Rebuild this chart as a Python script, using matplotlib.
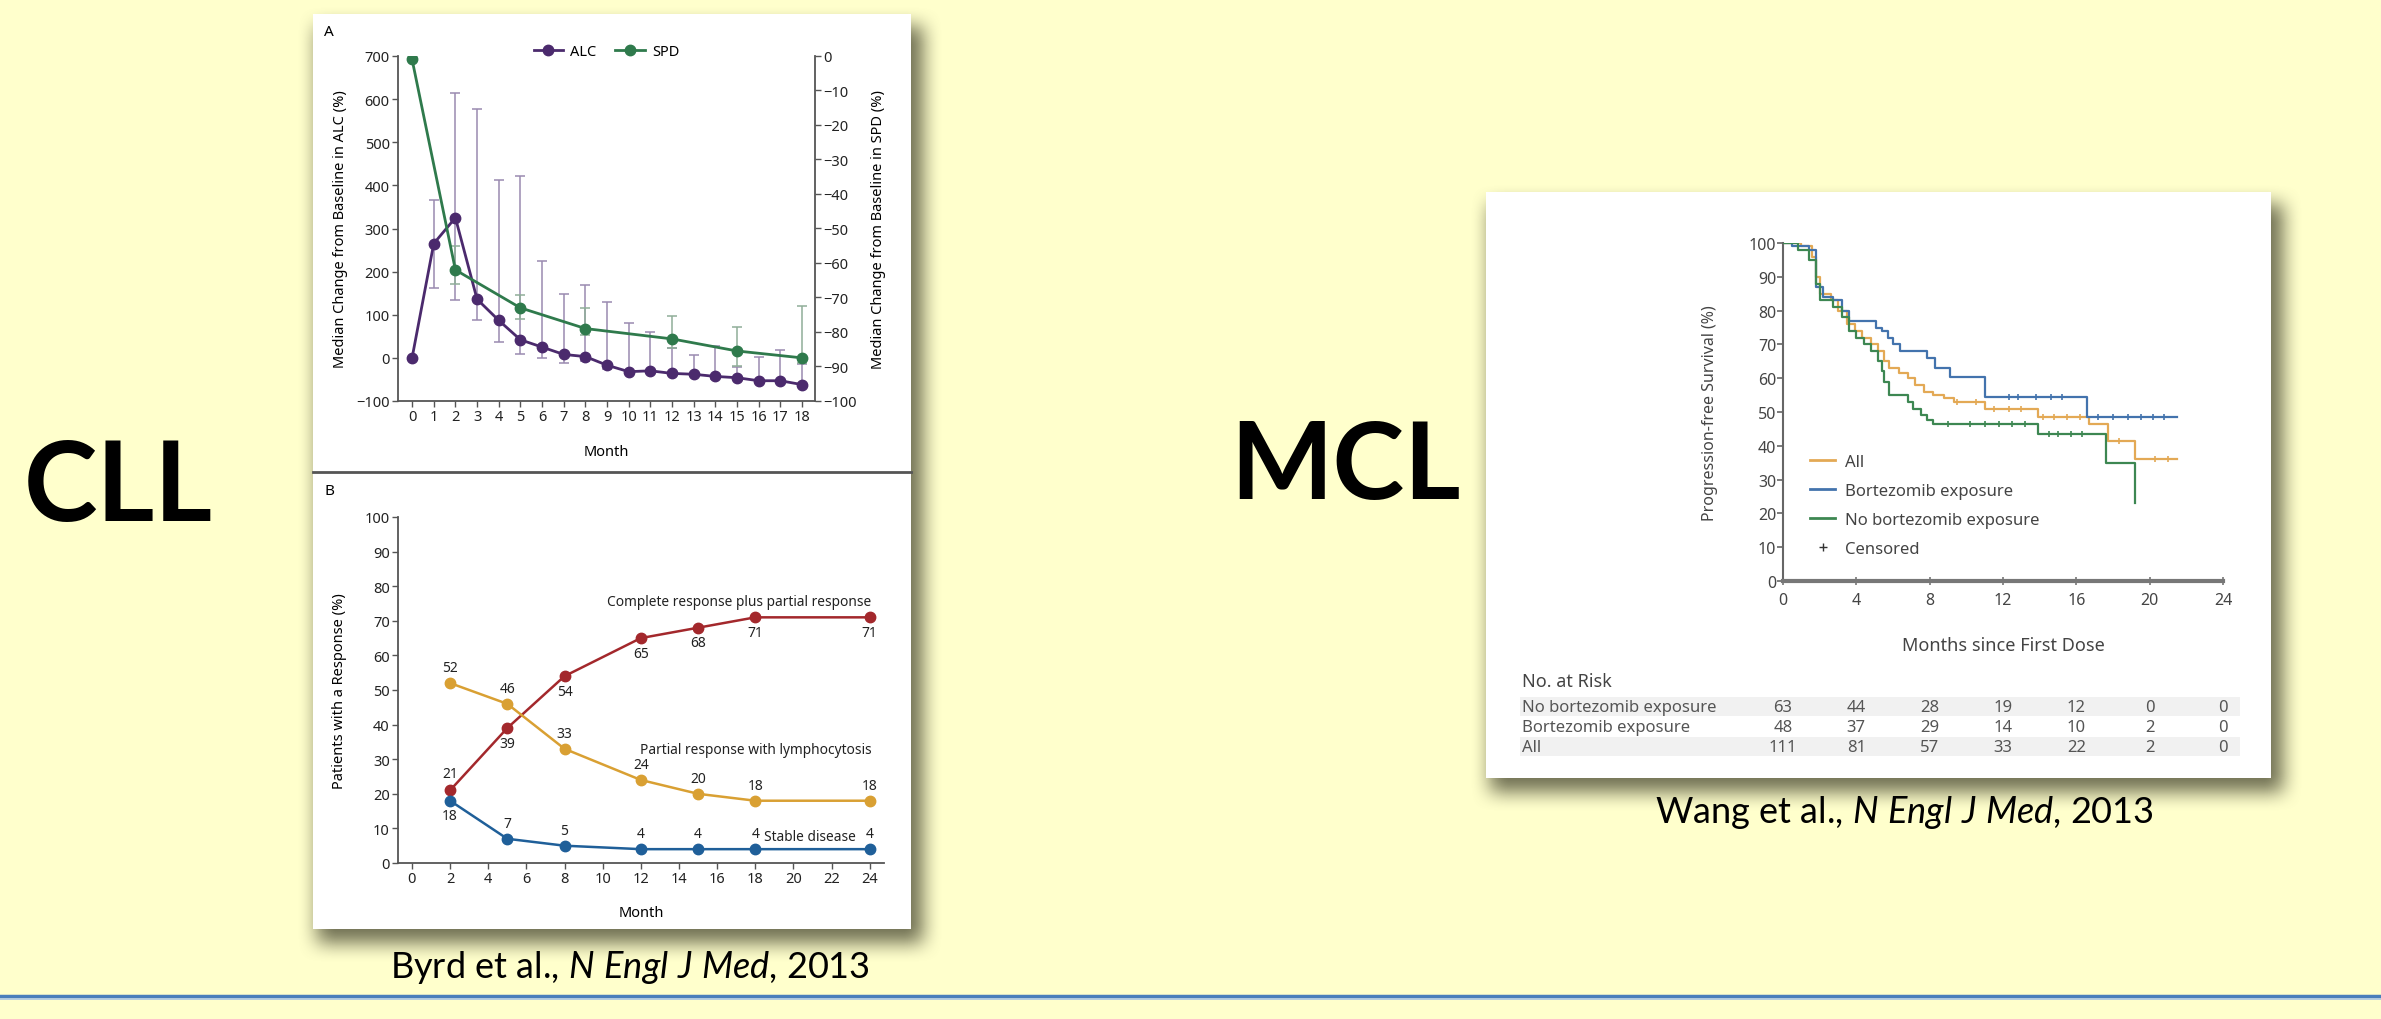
import numpy as np
import matplotlib
matplotlib.use("Agg")
import matplotlib.pyplot as plt
from matplotlib.lines import Line2D
from matplotlib.patches import Rectangle
from matplotlib import transforms

plt.rcParams["font.family"] = ["Noto Sans", "DejaVu Sans"]
plt.rcParams["mathtext.fontset"] = "custom"
plt.rcParams["mathtext.rm"] = "Lato"
plt.rcParams["mathtext.it"] = "Lato:italic"

W, H = 2381, 1020
BG = "#FFFFCC"

# ---- Panel A (CLL): ALC / SPD median change ----
months_a = list(range(19))
alc = [0, 265, 325, 136, 87, 42, 25, 8, 3, -17, -32, -30, -36, -38, -43, -46, -53, -53, -62]
alc_lo = [0, 161, 135, 87, 37, 10, 0, -12, -8, -25, -35, -35, -40, -42, -48, -50, -58, -58, -65]
alc_hi = [0, 365, 615, 578, 413, 421, 225, 147, 168, 130, 80, 60, 22, 7, 27, -20, 3, 18, -15]
spd_months = [0, 2, 5, 8, 12, 15, 18]
spd = [-1, -62, -73, -79, -82, -85.5, -87.5]
spd_lo = [-1, -66, -76.3, -81, -84.6, -90, -89]
spd_hi = [-1, -55, -69.2, -73, -75.4, -78.6, -72.5]

# ---- Panel B (CLL): response over time ----
months_b = [2, 5, 8, 12, 15, 18, 24]
cr_pr = [21, 39, 54, 65, 68, 71, 71]
pr_lymph = [52, 46, 33, 24, 20, 18, 18]
stable = [18, 7, 5, 4, 4, 4, 4]

# ---- MCL: Kaplan-Meier PFS ----
bort_t = [0, 0.5, 1.4, 1.8, 2.2, 2.7, 3.2, 3.6, 5.05, 5.4, 5.7, 6.0, 6.4, 7.85, 8.3, 9.1, 11.0, 16.6, 21.5]
bort_s = [100, 99, 98, 87, 84, 83, 80, 77, 75, 74, 72, 70, 68, 66, 63, 60.5, 54.5, 48.5, 48.5]
nobort_t = [0, 0.8, 1.4, 1.8, 2.0, 2.7, 3.2, 3.6, 4.0, 4.4, 4.8, 5.2, 5.4, 5.5, 5.8, 6.8, 7.1, 7.5, 7.85, 8.2, 13.9, 17.6, 19.2]
nobort_s = [100, 98, 95, 88, 83, 81, 78, 74, 72, 70, 68, 65, 62, 59, 55, 53, 51, 49, 47.5, 46.5, 43.5, 35, 23]
all_t = [0, 1.0, 1.6, 1.8, 2.0, 2.6, 3.0, 3.5, 3.9, 4.3, 4.8, 5.2, 5.5, 5.8, 6.3, 6.8, 7.2, 7.7, 8.2, 8.8, 9.3, 11.0, 13.9, 16.7, 17.7, 19.2, 21.5]
all_s = [100, 99, 96, 90, 85, 83, 80, 76, 74, 72, 70, 68, 65, 63, 61.5, 60, 58, 56, 55, 54, 53, 51, 48.5, 46.5, 41.5, 36, 36]
bort_cens = [12.3, 12.8, 13.8, 14.6, 15.2, 17.2, 18.0, 18.8, 19.5, 20.2, 20.8]
nobort_cens = [9.0, 10.2, 11.0, 11.8, 12.5, 13.2, 14.5, 15.0, 15.7, 16.3]
all_cens = [9.5, 10.5, 11.5, 12.3, 13.0, 14.2, 14.8, 15.5, 16.2, 18.3, 20.3, 21.0]
risk_months = [0, 4, 8, 12, 16, 20, 24]
risk_rows = ["No bortezomib exposure", "Bortezomib exposure", "All"]
risk_nobort = [63, 44, 28, 19, 12, 0, 0]
risk_bort = [48, 37, 29, 14, 10, 2, 0]
risk_all = [111, 81, 57, 33, 22, 2, 0]


def frac(x0, y0, x1, y1):
    # pixel box (top-left origin) -> figure fraction
    return [x0 / W, 1 - y1 / H, (x1 - x0) / W, (y1 - y0) / H]


def blur(a, r):
    k = np.ones(2 * r + 1) / (2 * r + 1)
    a = np.apply_along_axis(lambda m: np.convolve(m, k, mode="same"), 0, a)
    a = np.apply_along_axis(lambda m: np.convolve(m, k, mode="same"), 1, a)
    return a


def step_y(t, s, x):
    idx = np.searchsorted(t, x, side="right") - 1
    return np.array(s)[idx]


fig = plt.figure(figsize=(W / 100, H / 100), dpi=100, facecolor=BG)

# slide background, shadows, boxes
bg = fig.add_axes([0, 0, 1, 1], zorder=-10)
bg.set_xlim(0, W)
bg.set_ylim(H, 0)
bg.axis("off")
bg.set_facecolor(BG)

boxes = [(313, 15, 911, 930), (1486, 193, 2271, 779)]
sh = np.zeros((H, W))
for x0, y0, x1, y1 in boxes:
    sh[y0 + 12:y1 + 14, x0 + 4:x1 + 12] = 1.0
sh = blur(blur(sh, 11), 9)
rgba = np.zeros((H, W, 4))
rgba[..., 0] = 0.34
rgba[..., 1] = 0.34
rgba[..., 2] = 0.24
rgba[..., 3] = np.clip(sh * 0.85, 0, 1)
bg.imshow(rgba, extent=(0, W, H, 0), zorder=0, interpolation="bilinear")
for x0, y0, x1, y1 in boxes:
    bg.add_patch(Rectangle((x0, y0), x1 - x0, y1 - y0, facecolor="white", edgecolor="none", zorder=1))
bg.plot([313, 911], [473, 473], color="#555555", lw=2, zorder=2)

bg.plot([0, W], [997, 997], color="#4a7ebb", lw=2.5, zorder=2)
bg.plot([0, W], [1000, 1000], color="#a9c4e2", lw=1.2, zorder=2)

bg.text(118, 489, "CLL", fontsize=80, fontweight="bold", family="Lato", ha="center", va="center", zorder=3)
bg.text(1345, 468, "MCL", fontsize=78, fontweight="bold", family="Lato", ha="center", va="center", zorder=3)
bg.text(630, 968, r"Byrd et al., $\mathit{N\ Engl\ J\ Med}$, 2013", fontsize=26, family="Lato",
        ha="center", va="center", zorder=3)
bg.text(1904, 813, r"Wang et al., $\mathit{N\ Engl\ J\ Med}$, 2013", fontsize=26, family="Lato",
        ha="center", va="center", zorder=3)
bg.text(329, 32, "A", fontsize=11, fontweight="bold", ha="center", va="center", zorder=3)
bg.text(329, 492, "B", fontsize=11, fontweight="bold", ha="center", va="center", zorder=3)

spine_c = "#555555"
purple = "#4b2a6d"
green = "#2f7a4c"
tick_fs = 10.5
lab_fs = 10.5

# ---------------- Panel A ----------------
axA = fig.add_axes(frac(398, 57, 815, 402))
axA.patch.set_alpha(0)
axA.set_xlim(-0.65, 18.6)
axA.set_ylim(-100, 700)
a_mid = np.array(alc)
axA.errorbar(months_a, alc, yerr=[a_mid - np.array(alc_lo), np.array(alc_hi) - a_mid], fmt="none",
             ecolor="#9a8ab0", elinewidth=1.1, capsize=3.5, capthick=1.1, zorder=2)
axA.plot(months_a, alc, "-o", color=purple, ms=7.5, lw=2, zorder=4, label="ALC")
axA.set_yticks(range(-100, 701, 100))
axA.set_xticks(months_a)
axA.spines["top"].set_visible(False)
axA.spines["right"].set_visible(False)
axA.set_ylabel("Median Change from Baseline in ALC (%)", fontsize=lab_fs, fontweight="bold")
axA.yaxis.set_label_coords(-0.12, 0.5)
axA.set_xlabel("Month", fontsize=lab_fs, fontweight="bold")
axA.xaxis.set_label_coords(0.5, -0.125)

axA2 = axA.twinx()
axA2.set_ylim(-100, 0)
s_mid = np.array(spd)
axA2.errorbar(spd_months, spd, yerr=[s_mid - np.array(spd_lo), np.array(spd_hi) - s_mid], fmt="none",
              ecolor="#8fae98", elinewidth=1.1, capsize=3.5, capthick=1.1, zorder=2)
axA2.plot(spd_months, spd, "-o", color=green, ms=7.5, lw=2, zorder=4, label="SPD")
axA2.set_yticks(range(-100, 1, 10))
axA2.spines["top"].set_visible(False)
axA2.spines["left"].set_visible(False)
axA2.spines["bottom"].set_visible(False)
axA2.set_ylabel("Median Change from Baseline in SPD (%)", fontsize=lab_fs, fontweight="bold")
axA2.yaxis.set_label_coords(1.135, 0.5)

for ax in (axA, axA2):
    for sp in ax.spines.values():
        sp.set_color(spine_c)
        sp.set_linewidth(1.3)
    ax.tick_params(labelsize=tick_fs, length=4, width=1, color=spine_c, pad=2, labelcolor="#222222")

hA = [Line2D([], [], color=purple, marker="o", ms=7.5, lw=2),
      Line2D([], [], color=green, marker="o", ms=7.5, lw=2)]
axA.legend(hA, ["ALC", "SPD"], loc="center", bbox_to_anchor=(0.5, 1.012), ncol=2, frameon=False,
           fontsize=10.5, handlelength=2.0, columnspacing=1.3, handletextpad=0.5)

# ---------------- Panel B ----------------
axB = fig.add_axes(frac(398, 518, 884, 864))
axB.patch.set_alpha(0)
axB.set_xlim(-0.73, 24.75)
axB.set_ylim(0, 100)
red = "#a3282c"
orange = "#d9a033"
blue = "#1f5f99"
axB.plot(months_b, cr_pr, "-o", color=red, ms=7.5, lw=1.8, zorder=3)
axB.plot(months_b, pr_lymph, "-o", color=orange, ms=7.5, lw=1.8, zorder=3)
axB.plot(months_b, stable, "-o", color=blue, ms=7.5, lw=1.8, zorder=3)
for i, (m, v) in enumerate(zip(months_b, cr_pr)):
    dy = 12 if i == 0 else -11
    axB.annotate(str(v), (m, v), xytext=(0, dy), textcoords="offset points", ha="center", va="center",
                 fontsize=10, color="#222222")
for m, v in zip(months_b, pr_lymph):
    axB.annotate(str(v), (m, v), xytext=(0, 11), textcoords="offset points", ha="center", va="center",
                 fontsize=10, color="#222222")
for i, (m, v) in enumerate(zip(months_b, stable)):
    dy = -11 if i == 0 else 11
    axB.annotate(str(v), (m, v), xytext=(0, dy), textcoords="offset points", ha="center", va="center",
                 fontsize=10, color="#222222")
axB.text(24.1, 75.5, "Complete response plus partial response", ha="right", va="center", fontsize=9.9,
         color="#222222")
axB.text(24.1, 32.8, "Partial response with lymphocytosis", ha="right", va="center", fontsize=9.9,
         color="#222222")
axB.text(23.3, 7.8, "Stable disease", ha="right", va="center", fontsize=9.9, color="#222222")
axB.set_xticks(range(0, 25, 2))
axB.set_yticks(range(0, 101, 10))
axB.spines["top"].set_visible(False)
axB.spines["right"].set_visible(False)
for sp in axB.spines.values():
    sp.set_color(spine_c)
    sp.set_linewidth(1.3)
axB.tick_params(labelsize=tick_fs, length=4, width=1, color=spine_c, pad=2, labelcolor="#222222")
axB.set_ylabel("Patients with a Response (%)", fontsize=lab_fs, fontweight="bold")
axB.yaxis.set_label_coords(-0.105, 0.5)
axB.set_xlabel("Month", fontsize=lab_fs, fontweight="bold")
axB.xaxis.set_label_coords(0.5, -0.12)

# ---------------- MCL KM ----------------
axK = fig.add_axes(frac(1783, 244, 2223, 582))
axK.patch.set_alpha(0)
axK.set_xlim(0, 24)
axK.set_ylim(0, 100)
c_all = "#e3a955"
c_bort = "#4373ad"
c_nob = "#3d8752"
axK.step(all_t, all_s, where="post", color=c_all, lw=1.6, zorder=3)
axK.step(bort_t, bort_s, where="post", color=c_bort, lw=1.6, zorder=3)
axK.step(nobort_t, nobort_s, where="post", color=c_nob, lw=1.6, zorder=3)
axK.plot(all_cens, step_y(all_t, all_s, all_cens), "|", color=c_all, ms=4, mew=1.2, zorder=4)
axK.plot(bort_cens, step_y(bort_t, bort_s, bort_cens), "|", color=c_bort, ms=4, mew=1.2, zorder=4)
axK.plot(nobort_cens, step_y(nobort_t, nobort_s, nobort_cens), "|", color=c_nob, ms=4, mew=1.2, zorder=4)
axK.set_xticks(risk_months)
axK.set_yticks(range(0, 101, 10))
axK.spines["top"].set_visible(False)
axK.spines["right"].set_visible(False)
axK.spines["left"].set_color("#666666")
axK.spines["left"].set_linewidth(1.5)
axK.spines["bottom"].set_color("#777777")
axK.spines["bottom"].set_linewidth(3)
axK.tick_params(axis="y", labelsize=11.5, length=4, width=1.2, color="#666666", pad=1, labelcolor="#444444")
axK.tick_params(axis="x", labelsize=11.5, length=6, width=1.2, color="#777777", direction="inout", pad=5,
                labelcolor="#444444")
axK.set_ylabel("Progression-free Survival (%)", fontsize=11.5, fontweight="bold", color="#444444")
axK.yaxis.set_label_coords(-0.148, 0.5)
axK.set_xlabel("Months since First Dose", fontsize=13, fontweight="bold", color="#444444")
axK.xaxis.set_label_coords(0.5, -0.162)
hK = [Line2D([], [], color=c_all, lw=2), Line2D([], [], color=c_bort, lw=2),
      Line2D([], [], color=c_nob, lw=2), Line2D([], [], color="#333333", marker="+", lw=0, ms=6)]
axK.legend(hK, ["All", "Bortezomib exposure", "No bortezomib exposure", "Censored"], loc="upper left",
           bbox_to_anchor=(0.035, 0.41), frameon=False, fontsize=12, handlelength=1.5,
           labelspacing=0.78, handletextpad=0.6, labelcolor="#444444", borderpad=0.2)

# number at risk table
row_y = [708, 728, 748]
bg.add_patch(Rectangle((1520, 698), 720, 19, facecolor="#f1f1f1", edgecolor="none", zorder=1.5))
bg.add_patch(Rectangle((1520, 738), 720, 19, facecolor="#f1f1f1", edgecolor="none", zorder=1.5))
bg.text(1522, 682, "No. at Risk", fontsize=13, fontweight="bold", color="#444444", va="center", zorder=3)
tr = transforms.blended_transform_factory(axK.transData, bg.transData)
for y, name, vals in zip(row_y, risk_rows, [risk_nobort, risk_bort, risk_all]):
    bg.text(1522, y, name, fontsize=12, color="#555555", va="center", zorder=3)
    for m, v in zip(risk_months, vals):
        fig.text(m, y, str(v), transform=tr, fontsize=12, color="#555555", ha="center", va="center")

fig.savefig("out.png", dpi=100, facecolor=BG)
